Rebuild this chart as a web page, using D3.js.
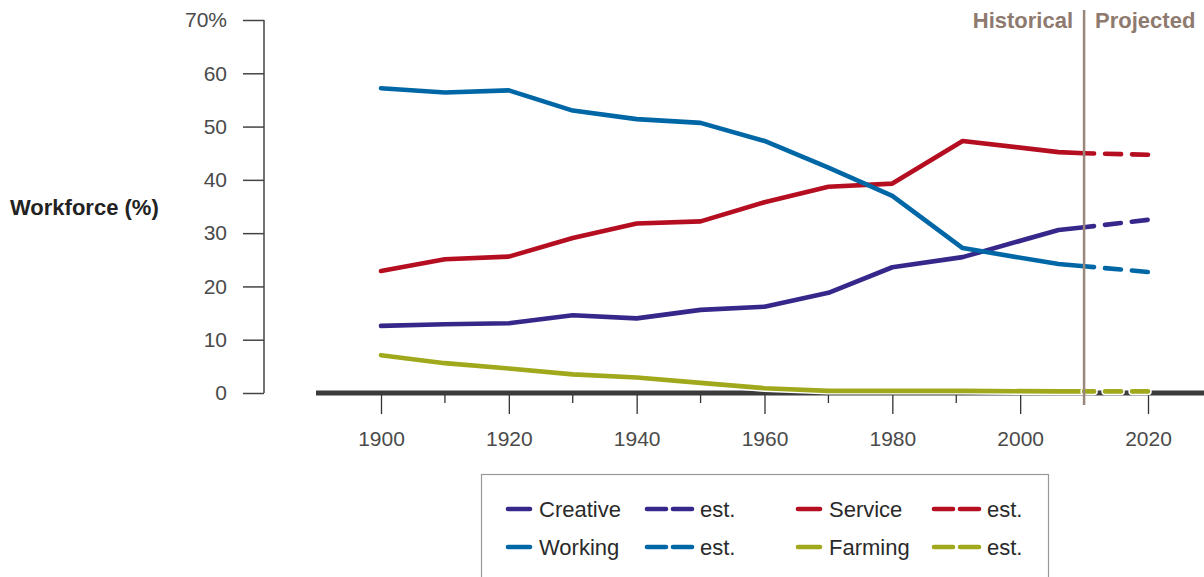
<!DOCTYPE html>
<html lang="en">
<head>
<meta charset="utf-8">
<script src="https://d3js.org/d3.v7.min.js"></script>
<style>
  body { margin: 0; background: #fff; }
  text { font-family: "Liberation Sans", Arial, sans-serif; }
</style>
</head>
<body>
<div id="graph"></div>
<script>
// historical data points
var histYears = [1900, 1910, 1920, 1930, 1940, 1950, 1960, 1970, 1980, 1991, 2006, 2010];
var creative  = [12.6, 12.9, 13.1, 14.6, 14.0, 15.6, 16.2, 18.8, 23.6, 25.5, 30.6, 31.1];
var working   = [57.2, 56.4, 56.8, 53.0, 51.4, 50.7, 47.3, 42.3, 37.0, 27.2, 24.2, 23.8];
var service   = [22.9, 25.1, 25.6, 29.1, 31.8, 32.2, 35.8, 38.7, 39.3, 47.3, 45.2, 45.0];
var farming   = [7.1, 5.6, 4.6, 3.5, 2.9, 1.9, 0.9, 0.4, 0.4, 0.4, 0.3, 0.3];

// projected (est.) points
var projYears     = [2010, 2020];
var creativeEst   = [31.1, 32.5];
var workingEst    = [23.8, 22.7];
var serviceEst    = [45.0, 44.7];
var farmingEst    = [0.3, 0.3];

var seriesNames  = ["Creative", "Working", "Service", "Farming"];
var seriesColors = ["#35288a", "#0067a6", "#b50e20", "#9fa91b"];

var yTicks = [0, 10, 20, 30, 40, 50, 60, 70];
var xMajor = [1900, 1920, 1940, 1960, 1980, 2000, 2020];
var xMinor = [1910, 1930, 1950, 1970, 1990, 2010];

var W = 1204, H = 577;

var svg = d3.select("#graph").append("svg")
    .attr("width", W).attr("height", H);

var x = d3.scaleLinear().domain([1900, 2020]).range([381, 1148]);
var y = d3.scaleLinear().domain([0, 70]).range([393, 20]);

// y axis
var yAxis = svg.append("g")
    .attr("transform", "translate(264,0)")
    .call(d3.axisLeft(y).tickValues(yTicks).tickSize(21).tickPadding(16)
      .tickFormat(function(d) { return d === 70 ? "70%" : d; }));
yAxis.select(".domain").attr("d", "M0," + y(70) + "V" + y(0))
    .attr("stroke", "#444").attr("stroke-width", 1.5);
yAxis.selectAll(".tick line").attr("stroke", "#444").attr("stroke-width", 1.5);
yAxis.selectAll(".tick text").attr("fill", "#4a4a4a").style("font-size", "21px")
    .style("font-family", "'Liberation Sans', Arial, sans-serif");

// x axis ticks (major + minor)
var xAxis = svg.append("g")
    .attr("transform", "translate(0," + y(0) + ")")
    .call(d3.axisBottom(x).tickValues(xMajor).tickSize(21).tickPadding(17)
      .tickFormat(d3.format("d")));
xAxis.select(".domain").remove();
xAxis.selectAll(".tick line").attr("stroke", "#333").attr("stroke-width", 1.3);
xAxis.selectAll(".tick text").attr("fill", "#4a4a4a").style("font-size", "21px")
    .style("font-family", "'Liberation Sans', Arial, sans-serif");

svg.append("g").selectAll("line").data(xMinor).enter().append("line")
    .attr("x1", function(d) { return x(d); }).attr("x2", function(d) { return x(d); })
    .attr("y1", y(0)).attr("y2", y(0) + 10)
    .attr("stroke", "#333").attr("stroke-width", 1.3);

// thick baseline
svg.append("line")
    .attr("x1", 316).attr("x2", W)
    .attr("y1", y(0)).attr("y2", y(0))
    .attr("stroke", "#3b3b3b").attr("stroke-width", 5);

// y label
svg.append("text")
    .attr("x", 10).attr("y", 215)
    .attr("font-weight", "bold").attr("font-size", 22)
    .attr("fill", "#222")
    .text("Workforce (%)");

var line = d3.line()
    .x(function(d) { return x(d[0]); })
    .y(function(d) { return y(d[1]); });

var hist = [creative, working, service, farming];
var proj = [creativeEst, workingEst, serviceEst, farmingEst];

var drawOrder = [3, 0, 2, 1];

// solid historical lines
drawOrder.forEach(function(i) {
  var pts = histYears.map(function(yr, k) { return [yr, hist[i][k]]; });
  if (i === 3) {
    svg.append("path").datum(pts).attr("d", line)
      .attr("fill", "none").attr("stroke", "#fff").attr("stroke-width", 7.5)
      .attr("stroke-linejoin", "round");
  }
  svg.append("path").datum(pts).attr("d", line)
    .attr("fill", "none").attr("stroke", seriesColors[i])
    .attr("stroke-width", 4.6).attr("stroke-linejoin", "round")
    .attr("stroke-linecap", "round");
});

// dashed projected lines
drawOrder.forEach(function(i) {
  var pts = projYears.map(function(yr, k) { return [yr, proj[i][k]]; });
  if (i === 3) {
    svg.append("path").datum(pts).attr("d", line)
      .attr("fill", "none").attr("stroke", "#fff").attr("stroke-width", 7.5)
      .attr("stroke-dasharray", "16,11").attr("stroke-dashoffset", 6)
      .attr("stroke-linecap", "round");
  }
  svg.append("path").datum(pts).attr("d", line)
    .attr("fill", "none").attr("stroke", seriesColors[i])
    .attr("stroke-width", 4.6)
    .attr("stroke-dasharray", "16,11").attr("stroke-dashoffset", 6)
    .attr("stroke-linecap", "round");
});

// historical / projected divider
svg.append("line")
    .attr("x1", x(2010)).attr("x2", x(2010))
    .attr("y1", 10).attr("y2", 405)
    .attr("stroke", "#9a877b").attr("stroke-width", 2.5);

svg.append("text")
    .attr("x", x(2010) - 11).attr("y", 28)
    .attr("text-anchor", "end").attr("font-weight", "bold").attr("font-size", 22)
    .attr("fill", "#8e7a6f").text("Historical");
svg.append("text")
    .attr("x", x(2010) + 11).attr("y", 28)
    .attr("font-weight", "bold").attr("font-size", 22)
    .attr("fill", "#8e7a6f").text("Projected");

// legend
svg.append("rect")
    .attr("x", 481.5).attr("y", 474.5)
    .attr("width", 567).attr("height", 120)
    .attr("fill", "#fff").attr("stroke", "#999").attr("stroke-width", 1.2);

var legCols = [506, 796];
var legRows = [509, 547];
seriesNames.forEach(function(name, i) {
  var lx = legCols[i < 2 ? 0 : 1];
  var ly = legRows[i % 2];
  var g = svg.append("g").attr("transform", "translate(" + lx + "," + ly + ")");
  g.append("line").attr("x1", 2).attr("x2", 24).attr("y1", 0).attr("y2", 0)
    .attr("stroke", seriesColors[i]).attr("stroke-width", 4.6).attr("stroke-linecap", "round");
  g.append("text").attr("x", 33).attr("y", 7.5)
    .attr("font-size", 22).attr("fill", "#2a2a2a").text(name);
  var ex = i < 2 ? 141 : 138;
  g.append("line").attr("x1", ex).attr("x2", ex + 19).attr("y1", 0).attr("y2", 0)
    .attr("stroke", seriesColors[i]).attr("stroke-width", 4.6).attr("stroke-linecap", "round");
  g.append("line").attr("x1", ex + 26).attr("x2", ex + 45).attr("y1", 0).attr("y2", 0)
    .attr("stroke", seriesColors[i]).attr("stroke-width", 4.6).attr("stroke-linecap", "round");
  g.append("text").attr("x", ex + 53).attr("y", 7.5)
    .attr("font-size", 22).attr("fill", "#2a2a2a").text("est.");
});
</script>
</body>
</html>
